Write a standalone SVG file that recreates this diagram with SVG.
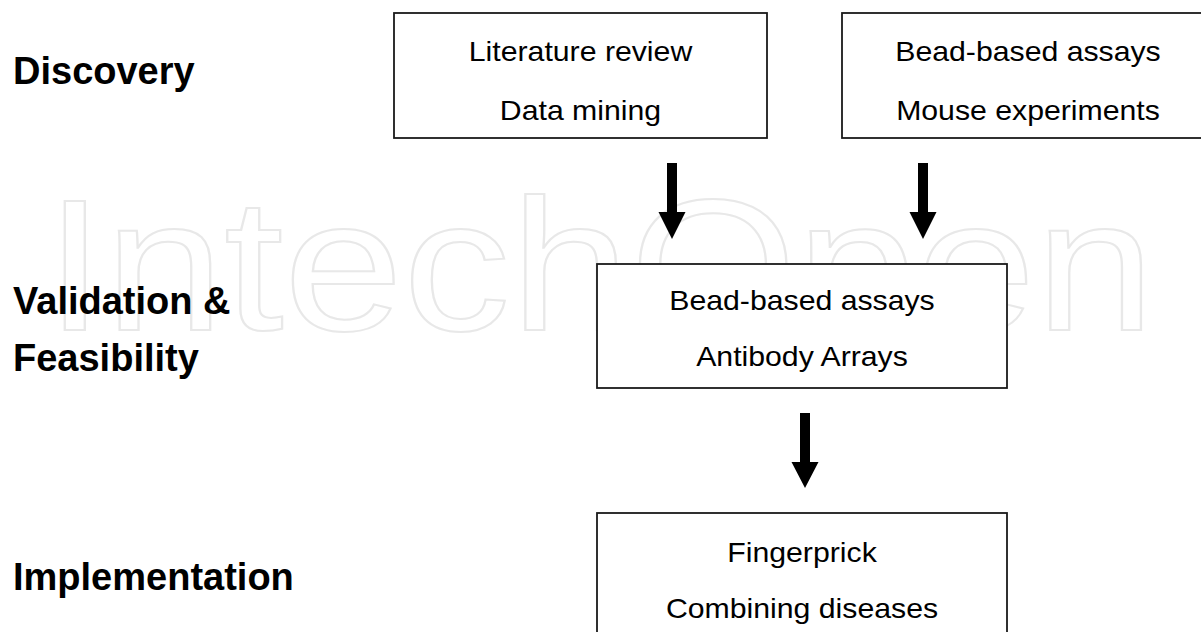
<svg xmlns="http://www.w3.org/2000/svg" width="1201" height="632" viewBox="0 0 1201 632">
<style>
.box{fill:#fff;stroke:#1a1a1a;stroke-width:1.8}
.t{font-family:"Liberation Sans",Arial,sans-serif;font-size:28px;fill:#000;text-anchor:middle}
.lab{font-family:"Liberation Sans",Arial,sans-serif;font-size:38px;font-weight:bold;fill:#000}
.arr{fill:#000}
.wm{font-family:"Liberation Sans",Arial,sans-serif;font-size:188px;fill:none;stroke:#e8e8e8;stroke-width:2}
</style>
<rect width="1201" height="632" fill="#fff"/>
<g id="watermark"><text class="wm" x="45" y="330" textLength="1110" lengthAdjust="spacingAndGlyphs">IntechOpen</text></g>
<g id="labels">
<text class="lab" x="13" y="84">Discovery</text>
<text class="lab" x="13" y="314">Validation &amp;</text>
<text class="lab" x="13" y="371">Feasibility</text>
<text class="lab" x="13" y="590">Implementation</text>
</g>
<g id="node-literature">
<rect class="box" x="394" y="13" width="373" height="125"/>
<text class="t" transform="translate(580.5 61) scale(1.08 1)">Literature review</text>
<text class="t" transform="translate(580.5 120) scale(1.08 1)">Data mining</text>
</g>
<g id="node-bead-mouse">
<rect class="box" x="842" y="13" width="372" height="125"/>
<text class="t" transform="translate(1028 61) scale(1.08 1)">Bead-based assays</text>
<text class="t" transform="translate(1028 120) scale(1.08 1)">Mouse experiments</text>
</g>
<g id="node-validation">
<rect class="box" x="597" y="264" width="410" height="124"/>
<text class="t" transform="translate(802 310) scale(1.08 1)">Bead-based assays</text>
<text class="t" transform="translate(802 366) scale(1.08 1)">Antibody Arrays</text>
</g>
<g id="node-implementation">
<rect class="box" x="597" y="513" width="410" height="130"/>
<text class="t" transform="translate(802 562) scale(1.08 1)">Fingerprick</text>
<text class="t" transform="translate(802 618) scale(1.08 1)">Combining diseases</text>
</g>
<g id="connectors">
<path class="arr" d="M667 163H677V212H685.5L672 239L658.5 212H667Z"/>
<path class="arr" d="M918 163H928V212H936.5L923 239L909.5 212H918Z"/>
<path class="arr" d="M800 413H810V462H818.5L805 488L791.5 462H800Z"/>
</g>
</svg>
